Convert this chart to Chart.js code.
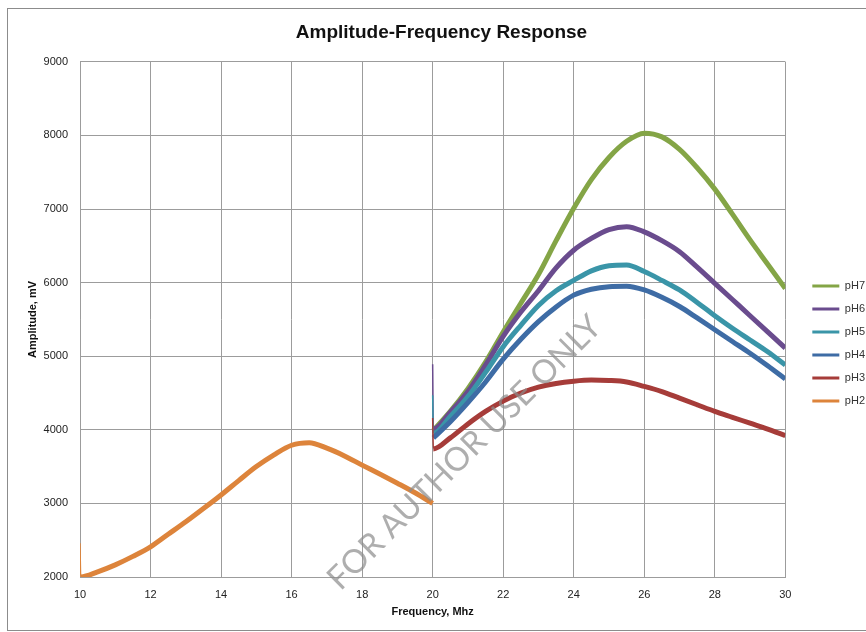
<!DOCTYPE html>
<html>
<head>
    <title>Amplitude-Frequency Response</title>
    <script src="https://cdn.jsdelivr.net/npm/chart.js"></script>
    <style>
        body {
            margin: 0;
            background-color: #ffffff;
            overflow: hidden;
        }
        #frame {
            position: absolute;
            left: 7px;
            top: 8px;
            width: 900px;
            height: 621px;
            border-left: 1px solid #8c8c8c;
            border-top: 1px solid #8c8c8c;
            border-bottom: 1px solid #8c8c8c;
        }
        #wrap {
            position: absolute;
            left: 0;
            top: 0;
            width: 875px;
            height: 632px;
        }
    </style>
</head>
<body>

<div id="frame"></div>
<div id="wrap"><canvas id="afrChart"></canvas></div>

<script>
    // frequency grid of the first sweep (pH2), MHz
    const freqLow = [10, 10.02, 10.5, 11, 11.5, 12, 12.5, 13, 13.5, 14, 14.5, 15, 15.5, 16, 16.5, 17, 17.5, 18, 18.5, 19, 19.5, 20];
    const pH2 = [2460, 2000, 2070, 2165, 2280, 2410, 2580, 2750, 2930, 3115, 3310, 3500, 3660, 3790, 3825, 3750, 3645, 3520, 3400, 3275, 3145, 3000];

    // frequency grid of the second sweep (pH3..pH7), MHz
    const freqHigh = [20, 20.02, 20.5, 21, 21.5, 22, 22.5, 23, 23.5, 24, 24.5, 25, 25.5, 26, 26.5, 27, 27.5, 28, 28.5, 29, 29.5, 30];
    const pH7 = [null, 3990, 4250, 4560, 4920, 5330, 5720, 6110, 6570, 7010, 7400, 7700, 7920, 8030, 7980, 7810, 7560, 7270, 6930, 6580, 6250, 5920];
    const pH6 = [4890, 4010, 4240, 4520, 4880, 5270, 5600, 5890, 6200, 6440, 6600, 6720, 6760, 6690, 6570, 6420, 6210, 5990, 5770, 5550, 5330, 5110];
    const pH5 = [4470, 3950, 4180, 4450, 4780, 5130, 5420, 5690, 5890, 6030, 6160, 6230, 6240, 6150, 6030, 5900, 5730, 5550, 5380, 5220, 5060, 4880];
    const pH4 = [null, 3890, 4110, 4370, 4650, 4960, 5230, 5470, 5670, 5830, 5910, 5945, 5950, 5900, 5800, 5675, 5520, 5360, 5200, 5040, 4870, 4690];
    const pH3 = [4160, 3740, 3890, 4080, 4250, 4390, 4500, 4580, 4630, 4660, 4675, 4670, 4650, 4590, 4520, 4430, 4340, 4250, 4170, 4090, 4010, 3920];

    const xTicks = [10, 12, 14, 16, 18, 20, 22, 24, 26, 28, 30];
    const yTicks = [2000, 3000, 4000, 5000, 6000, 7000, 8000, 9000];

    const seriesList = [
        { label: 'pH7', freq: freqHigh, values: pH7, color: '#84a546' },
        { label: 'pH6', freq: freqHigh, values: pH6, color: '#6a4c8e' },
        { label: 'pH5', freq: freqHigh, values: pH5, color: '#3a95a8' },
        { label: 'pH4', freq: freqHigh, values: pH4, color: '#3e6ca5' },
        { label: 'pH3', freq: freqHigh, values: pH3, color: '#a63c39' },
        { label: 'pH2', freq: freqLow, values: pH2, color: '#dd843b' }
    ];

    Chart.defaults.font.family = "'Liberation Sans', Arial, sans-serif";
    Chart.defaults.color = '#222';

    const gridColor = '#9c9c9c';

    const datasets = seriesList.map((s, idx) => ({
        label: s.label,
        data: s.freq.map((f, i) => ({ x: f, y: s.values[i] })),
        borderColor: s.color,
        backgroundColor: s.color,
        borderWidth: 5,
        pointRadius: 0,
        pointHoverRadius: 0,
        cubicInterpolationMode: 'monotone',
        spanGaps: true,
        fill: false,
        // later series drawn on top, like the original
        order: seriesList.length - 1 - idx,
        // the start-up spike is a thin vertical stroke in the original
        segment: {
            borderWidth: ctx => ctx.p0DataIndex === 0 ? 1.5 : undefined
        }
    }));

    // watermark text across the plot
    const watermark = {
        id: 'watermark',
        afterDatasetsDraw(chart) {
            const c = chart.ctx;
            const text = 'FOR AUTHOR USE ONLY';
            c.save();
            c.font = "100px Lato, 'Liberation Sans', sans-serif";
            const w = c.measureText(text).width;
            const size = 100 * 372 / w;
            c.font = size + "px Lato, 'Liberation Sans', sans-serif";
            c.translate(472, 460);
            c.rotate(-45 * Math.PI / 180);
            c.fillStyle = 'rgba(140,140,140,0.7)';
            c.textAlign = 'center';
            c.textBaseline = 'alphabetic';
            c.fillText(text, 0, 0);
            c.restore();
        }
    };

    new Chart(document.getElementById('afrChart'), {
        type: 'line',
        data: { datasets },
        plugins: [watermark],
        options: {
            responsive: true,
            maintainAspectRatio: false,
            animation: false,
            events: [],
            layout: {
                padding: { left: 8, right: 0, top: 0, bottom: 11 }
            },
            plugins: {
                title: {
                    display: true,
                    text: 'Amplitude-Frequency Response',
                    color: '#111',
                    font: { size: 19, weight: 'bold' },
                    padding: { top: 21, bottom: 18 }
                },
                legend: {
                    display: true,
                    position: 'right',
                    align: 'center',
                    title: {
                        display: true,
                        text: '',
                        padding: { top: 0, bottom: 51.6 }
                    },
                    labels: {
                        usePointStyle: true,
                        pointStyle: 'line',
                        pointStyleWidth: 27,
                        padding: 12,
                        color: '#333',
                        font: { size: 11 },
                        sort: (a, b) => a.datasetIndex - b.datasetIndex,
                        generateLabels: chart => Chart.defaults.plugins.legend.labels.generateLabels(chart)
                            .map(item => Object.assign(item, { lineWidth: 3 }))
                    }
                },
                tooltip: { enabled: false }
            },
            scales: {
                x: {
                    type: 'linear',
                    min: 10,
                    max: 30,
                    afterBuildTicks: scale => { scale.ticks = xTicks.map(v => ({ value: v })); },
                    afterFit: scale => { scale.height = 44; },
                    grid: { color: gridColor, drawTicks: false },
                    border: { color: gridColor },
                    ticks: { padding: 11, font: { size: 11 }, color: '#222' },
                    title: {
                        display: true,
                        text: 'Frequency, Mhz',
                        color: '#111',
                        font: { size: 11, weight: 'bold' },
                        padding: { top: 5, bottom: 2 }
                    }
                },
                y: {
                    min: 2000,
                    max: 9000,
                    afterBuildTicks: scale => { scale.ticks = yTicks.map(v => ({ value: v })); },
                    afterFit: scale => { scale.width = 72; },
                    grid: { color: gridColor, drawTicks: false },
                    border: { color: gridColor },
                    ticks: {
                        padding: 12,
                        font: { size: 11 },
                        color: '#222',
                        callback: v => String(v)
                    },
                    title: {
                        display: true,
                        text: 'Amplitude, mV',
                        color: '#111',
                        font: { size: 11, weight: 'bold' },
                        padding: { top: 18, bottom: 4 }
                    }
                },
                // empty spacer between the plot and the legend
                gap: {
                    type: 'linear',
                    position: 'right',
                    display: true,
                    grid: { display: false },
                    border: { display: false },
                    ticks: { display: false },
                    afterFit: scale => { scale.width = 15; }
                }
            }
        }
    });
</script>
</body>
</html>
